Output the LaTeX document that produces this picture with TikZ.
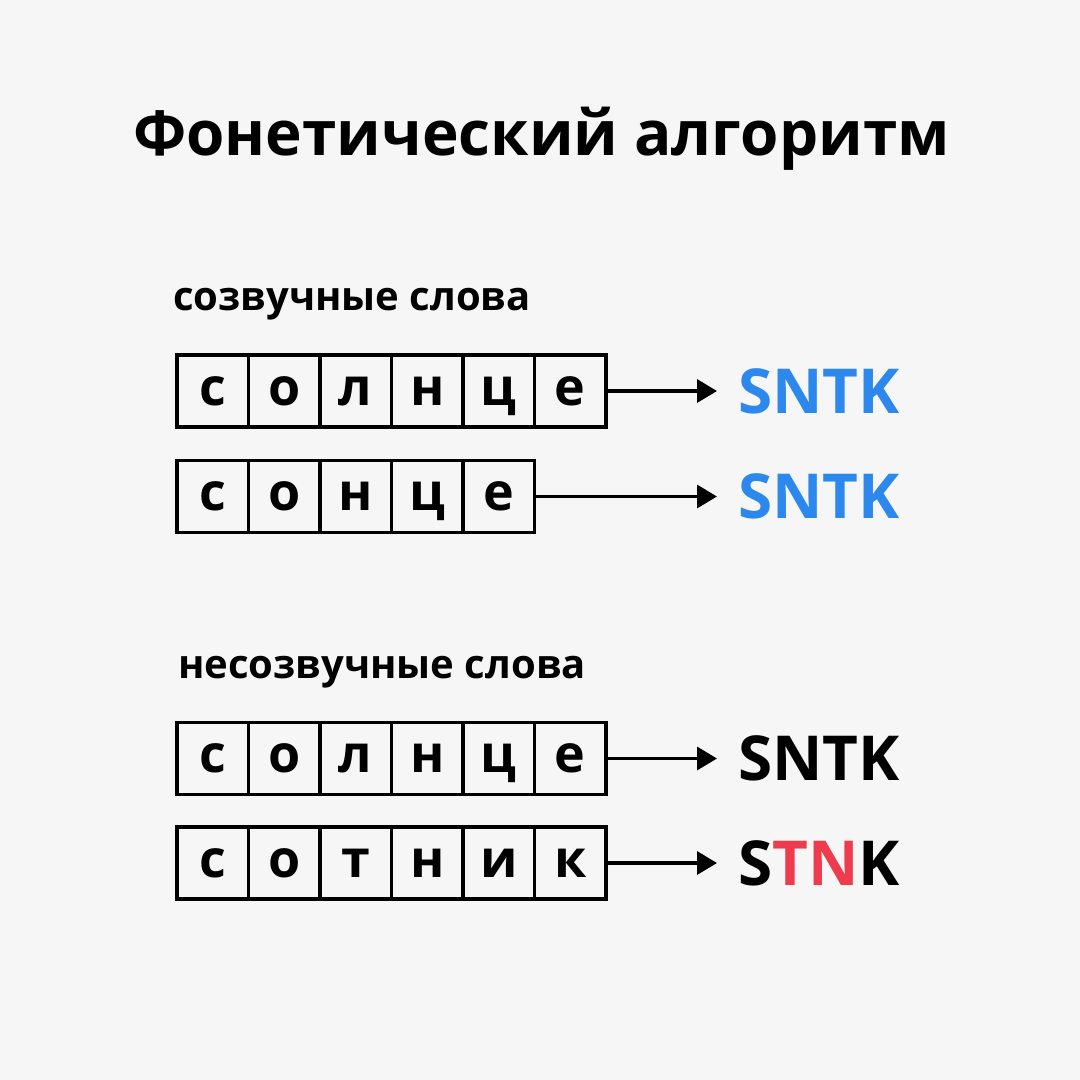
\documentclass[tikz,border=0pt]{standalone}
\usepackage{fontspec}
\setmainfont{Open Sans}
\usetikzlibrary{arrows.meta}
\definecolor{paper}{RGB}{246,246,246}
\definecolor{codeblue}{RGB}{45,136,238}
\definecolor{codered}{RGB}{238,59,78}
\tikzset{
  cell/.style={draw=black, line width=3.5pt, minimum width=71.5pt, minimum height=72pt,
    inner sep=0pt, outer sep=0pt, font=\fontsize{52}{52}\selectfont\bfseries,
    text height=28pt, text depth=0pt},
  conn/.style={line width=3.5pt, -{Triangle[length=20pt,width=23pt]}},
  code/.style={anchor=west, inner sep=0pt, font=\fontsize{62}{62}\selectfont\bfseries,
    text height=44pt, text depth=0pt},
  heading/.style={anchor=base west, inner sep=0pt, font=\fontsize{62}{70}\selectfont\bfseries},
  sub/.style={anchor=base west, inner sep=0pt, font=\fontsize{40}{46}\selectfont\bfseries}
}
\begin{document}
\begin{tikzpicture}[x=1pt,y=-1pt]
  \fill[paper] (0,0) rectangle (1080,1080);
  \useasboundingbox (0,0) rectangle (1080,1080);

  \node[heading] (title) at (133,155) {Фонетический алгоритм};
  \node[sub] (s1) at (173,310) {созвучные слова};
  \node[sub] (s2) at (178,678) {несозвучные слова};

  % row 1
  \foreach \ch [count=\i from 0] in {с,о,л,н,ц,е}
    \node[cell] (r1c\i) at (212.75+71.5*\i,391) {\ch};
  % row 2
  \foreach \ch [count=\i from 0] in {с,о,н,ц,е}
    \node[cell] (r2c\i) at (212.75+71.5*\i,496.5) {\ch};
  % row 3
  \foreach \ch [count=\i from 0] in {с,о,л,н,ц,е}
    \node[cell] (r3c\i) at (212.75+71.5*\i,758.5) {\ch};
  % row 4
  \foreach \ch [count=\i from 0] in {с,о,т,н,и,к}
    \node[cell] (r4c\i) at (212.75+71.5*\i,863) {\ch};

  \coordinate (a1) at (717,391);
  \coordinate (a2) at (717,496.5);
  \coordinate (a3) at (717,758.5);
  \coordinate (a4) at (717,863);

  \draw[conn] (r1c5.east) -- (a1);
  \draw[conn] (r2c4.east) -- (a2);
  \draw[conn] (r3c5.east) -- (a3);
  \draw[conn] (r4c5.east) -- (a4);

  \node[code, text=codeblue] (k1) at (738,391) {SNTK};
  \node[code, text=codeblue] (k2) at (738,496.5) {SNTK};
  \node[code] (k3) at (738,758.5) {SNTK};
  \node[code] (k4) at (738,863) {S\textcolor{codered}{TN}K};
\end{tikzpicture}
\end{document}
